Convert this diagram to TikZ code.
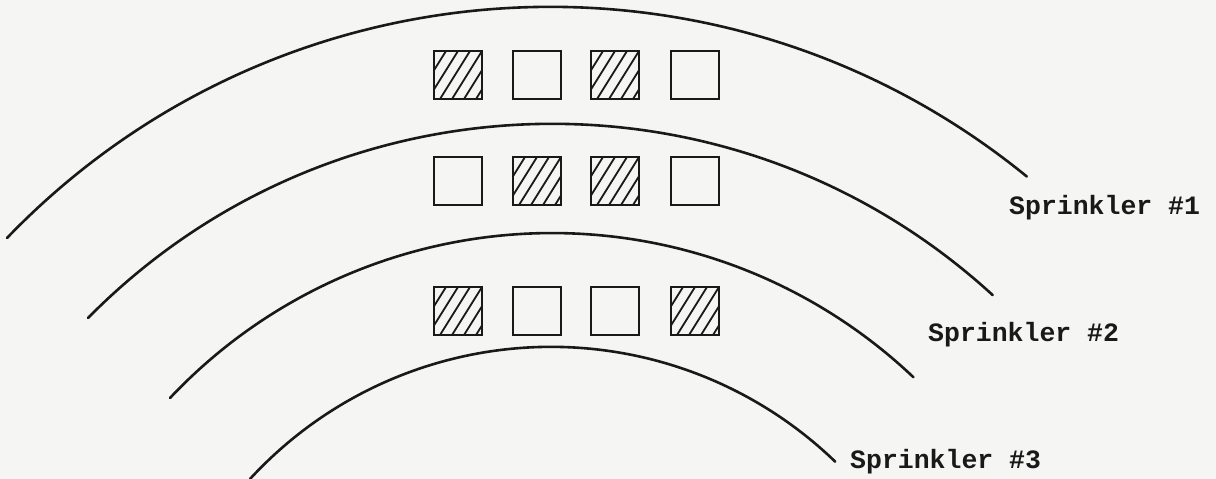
\documentclass[tikz,border=0pt]{standalone}
\usepackage{fontspec}
\setmonofont{Liberation Mono}
\definecolor{paper}{RGB}{245,245,243}
\definecolor{ink}{RGB}{25,25,25}
\tikzset{
  arcline/.style={draw=ink, line width=2.6pt, line cap=round},
  cell/.style={draw=ink, line width=2.8pt, minimum width=48pt, minimum height=48pt, inner sep=0pt, fill=paper},
  hatched/.style={cell, path picture={
      \foreach \i in {-30,-18,...,50}
        \draw[ink, line width=1.8pt] ([xshift=\i pt]path picture bounding box.south west) -- ++(30pt,48pt);
  }},
  label/.style={font=\ttfamily\bfseries\fontsize{26.5}{30}\selectfont, text=ink, inner sep=0pt, anchor=base west}
}
\begin{document}
\begin{tikzpicture}[x=1pt,y=-1pt]
\useasboundingbox[fill=paper] (0,0) rectangle (1216,479);

% arcs (circular, centres near x = 550)
\draw[arcline] (7,238)   arc[start angle=136.1, end angle=50.8, radius=754pt];
\draw[arcline] (88,318)  arc[start angle=135.4, end angle=47.5, radius=652pt];
\draw[arcline] (170,398) arc[start angle=136.7, end angle=46.5, radius=525pt];
\draw[arcline] (250,479) arc[start angle=137.4, end angle=46.0, radius=409pt];

% row 1
\node[hatched] (a1) at (458,75) {};
\node[cell]    (a2) at (537,75) {};
\node[hatched] (a3) at (615,75) {};
\node[cell]    (a4) at (695,75) {};
% row 2
\node[cell]    (b1) at (458,181) {};
\node[hatched] (b2) at (537,181) {};
\node[hatched] (b3) at (615,181) {};
\node[cell]    (b4) at (695,181) {};
% row 3
\node[hatched] (c1) at (458,311) {};
\node[cell]    (c2) at (537,311) {};
\node[cell]    (c3) at (615,311) {};
\node[hatched] (c4) at (695,311) {};

% labels
\node[label] (s1) at (1009,214) {Sprinkler \#1};
\node[label] (s2) at (928,341) {Sprinkler \#2};
\node[label] (s3) at (850,468) {Sprinkler \#3};
\end{tikzpicture}
\end{document}
